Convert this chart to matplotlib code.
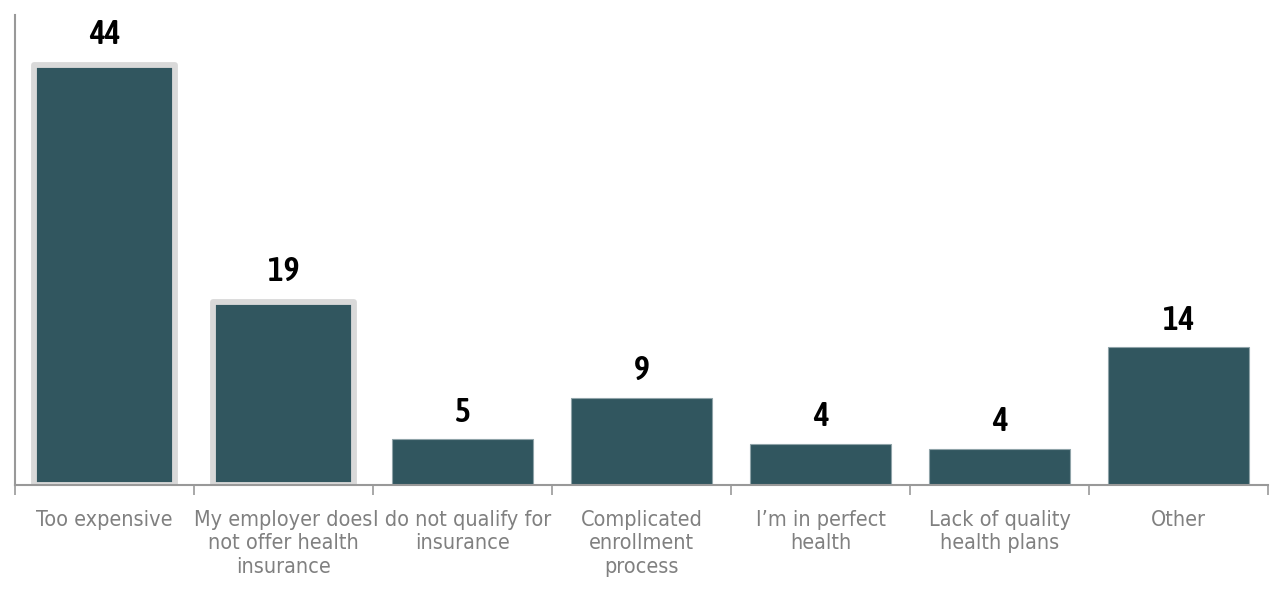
import matplotlib
matplotlib.use("Agg")
import matplotlib.pyplot as plt
import numpy as np

# reasons for not having health insurance (%)
categories = [
    "Too expensive",
    "My employer does\nnot offer health\ninsurance",
    "I do not qualify for\ninsurance",
    "Complicated\nenrollment\nprocess",
    "I\u2019m in perfect\nhealth",
    "Lack of quality\nhealth plans",
    "Other",
]
values = [43.8, 19.1, 4.8, 9.1, 4.3, 3.8, 14.4]
labels = ["44", "19", "5", "9", "4", "4", "14"]
highlighted = [True, True, False, False, False, False, False]

bar_color = "#31565F"
fig = plt.figure(figsize=(12.74, 5.91), dpi=100)
ax = fig.add_axes([0.0118, 0.1794, 0.9835, 0.7952])

x = np.arange(len(categories))
for xi, v, hl in zip(x, values, highlighted):
    if hl:
        ax.bar(xi, v, width=0.79, color=bar_color, edgecolor="#D9D9D9",
               linewidth=4.2, joinstyle="round", zorder=2)
    else:
        ax.bar(xi, v, width=0.79, color=bar_color, edgecolor="#8FA3A8",
               linewidth=0.8, zorder=2)

for xi, v, lab, hl in zip(x, values, labels, highlighted):
    off = 2.2 if hl else 1.8
    ax.text(xi, v + off, lab, ha="center", va="baseline", fontsize=24,
            fontweight=600, family="Asap Condensed", color="black")

ax.set_xlim(-0.5, len(categories) - 0.5)
ax.set_ylim(0, 49)

ax.set_xticks(x)
ax.set_xticklabels(categories, fontstretch="condensed", fontsize=15.5,
                   color="#808080", linespacing=1.22)
ax.tick_params(axis="x", which="major", length=0, pad=18)
ax.set_xticks(np.arange(-0.5, len(categories), 1.0), minor=True)
ax.tick_params(axis="x", which="minor", length=7, width=1.2, color="#999999",
               direction="out")
ax.set_yticks([])

for s in ["top", "right"]:
    ax.spines[s].set_visible(False)
for s in ["left", "bottom"]:
    ax.spines[s].set_color("#999999")
    ax.spines[s].set_linewidth(1.5)

fig.savefig("out.png", dpi=100)
